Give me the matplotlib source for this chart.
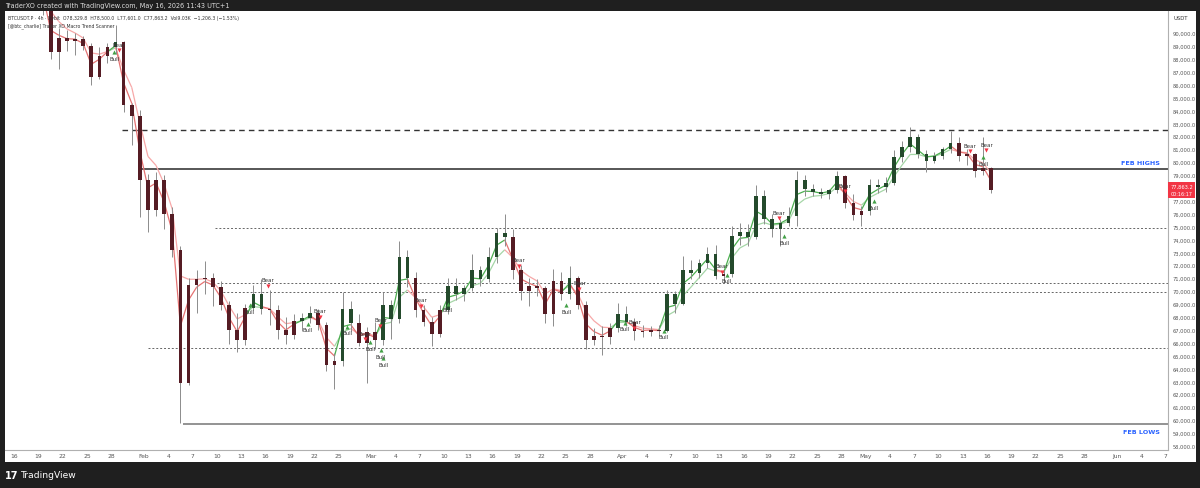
import matplotlib
matplotlib.use("Agg")
import matplotlib.pyplot as plt
import matplotlib.dates as mdates
import numpy as np
import pandas as pd
from matplotlib.collections import LineCollection
from matplotlib.patches import Rectangle

# ---------------- data (daily OHLC, thousands USDT), Jan 16 -> May 16 2026 ----------------
start_date = "2026-01-16"
opens = [95.5, 95.1, 95.0, 93.6, 92.4, 88.5, 89.6, 89.4, 89.5, 89.0,
         86.6, 88.2, 88.9, 89.3, 84.4, 83.6, 78.6, 76.3, 78.6, 76.0,
         73.2, 62.9, 70.5, 70.9, 71.0, 70.3, 68.9, 67.0, 66.2, 68.7,
         69.8, 68.6, 68.5, 67.0, 66.6, 67.7, 67.9, 68.3, 67.4, 64.3,
         64.6, 68.6, 67.5, 66.0, 66.8, 66.2, 68.9, 67.8, 72.6, 71.0,
         68.5, 67.6, 66.7, 68.5, 70.4, 69.8, 70.2, 71.6, 70.9, 72.6,
         74.5, 74.2, 71.6, 70.0, 70.4, 70.2, 68.2, 70.8, 69.8, 71.0,
         68.9, 66.2, 66.5, 66.4, 67.1, 68.2, 67.6, 66.9, 66.8, 67.0,
         66.9, 69.8, 69.0, 71.6, 71.4, 72.2, 72.9, 71.2, 71.3, 74.3,
         74.6, 74.2, 77.4, 75.6, 74.8, 75.3, 75.8, 78.6, 77.9, 77.7,
         77.5, 77.8, 78.9, 76.8, 75.9, 76.2, 78.2, 78.1, 78.4, 80.4,
         81.2, 81.9, 80.6, 80.1, 80.5, 81.0, 81.5, 80.5, 80.6, 79.3,
         79.5]
highs = [95.9, 95.6, 95.5, 93.8, 92.8, 90.4, 90.2, 90.0, 89.8, 89.2,
         88.9, 89.2, 90.6, 89.4, 84.6, 84.0, 79.1, 79.2, 79.0, 76.5,
         73.5, 71.0, 71.6, 72.3, 71.4, 70.8, 69.2, 68.3, 69.0, 70.5,
         70.9, 70.1, 68.9, 68.0, 68.2, 68.3, 68.8, 68.6, 67.6, 65.2,
         69.9, 69.2, 68.2, 67.2, 67.6, 69.9, 69.3, 73.9, 73.2, 71.5,
         68.9, 68.0, 68.9, 71.0, 71.0, 70.5, 72.9, 71.9, 73.4, 74.9,
         76.0, 74.8, 72.0, 71.0, 70.9, 70.4, 71.7, 71.5, 71.9, 71.2,
         69.2, 67.1, 67.3, 67.5, 69.1, 68.8, 67.9, 67.4, 67.3, 67.4,
         70.1, 70.0, 72.7, 72.4, 72.5, 73.4, 73.6, 71.6, 75.0, 75.3,
         75.2, 78.2, 77.8, 76.0, 75.6, 76.5, 79.3, 79.0, 78.3, 78.0,
         77.9, 79.3, 79.0, 77.5, 76.6, 78.7, 78.7, 78.8, 80.9, 81.6,
         82.7, 82.2, 80.9, 80.8, 81.2, 82.4, 81.9, 81.0, 80.7, 81.9,
         79.6]
lows = [94.9, 94.8, 93.5, 91.4, 88.0, 87.2, 88.6, 88.3, 88.7, 86.0,
        86.4, 87.7, 88.4, 83.9, 81.3, 75.7, 74.6, 75.8, 74.8, 72.6,
        59.8, 62.7, 68.3, 69.8, 68.8, 68.5, 65.9, 65.3, 65.8, 68.5,
        68.2, 67.4, 66.3, 65.9, 66.3, 66.9, 67.5, 67.0, 63.8, 62.4,
        64.2, 66.9, 65.7, 62.9, 65.5, 65.8, 66.3, 67.5, 70.3, 68.0,
        67.3, 65.7, 66.4, 68.2, 69.3, 69.2, 70.0, 70.4, 70.7, 72.2,
        73.5, 70.9, 69.3, 68.8, 69.6, 67.5, 67.3, 69.3, 69.4, 68.6,
        65.5, 65.8, 65.0, 65.9, 66.8, 67.3, 66.2, 66.4, 66.5, 66.5,
        66.8, 68.3, 68.9, 70.9, 71.0, 71.8, 70.9, 70.6, 71.1, 73.6,
        73.5, 74.0, 75.2, 74.2, 73.5, 75.0, 75.0, 77.4, 77.4, 77.2,
        77.1, 77.6, 76.4, 75.5, 75.0, 75.9, 77.6, 77.7, 78.2, 80.0,
        80.8, 80.3, 79.2, 79.9, 80.2, 80.7, 80.1, 79.8, 78.8, 79.0,
        77.6]
closes = [95.1, 95.0, 93.6, 92.4, 88.5, 89.6, 89.4, 89.5, 89.0, 86.6,
          88.2, 88.9, 89.3, 84.4, 83.6, 78.6, 76.3, 78.6, 76.0, 73.2,
          62.9, 70.5, 70.9, 71.0, 70.3, 68.9, 67.0, 66.2, 68.7, 69.8,
          68.6, 68.5, 67.0, 66.6, 67.7, 67.9, 68.3, 67.4, 64.3, 64.6,
          68.6, 67.5, 66.0, 66.8, 66.2, 68.9, 67.8, 72.6, 71.0, 68.5,
          67.6, 66.7, 68.5, 70.4, 69.8, 70.2, 71.6, 70.9, 72.6, 74.5,
          74.2, 71.6, 70.0, 70.4, 70.2, 68.2, 70.8, 69.8, 71.0, 68.9,
          66.2, 66.5, 66.4, 67.1, 68.2, 67.6, 66.9, 66.8, 67.0, 66.9,
          69.8, 69.0, 71.6, 71.4, 72.2, 72.9, 71.2, 71.3, 74.3, 74.6,
          74.2, 77.4, 75.6, 74.8, 75.3, 75.8, 78.6, 77.9, 77.7, 77.5,
          77.8, 78.9, 76.8, 75.9, 76.2, 78.2, 78.1, 78.4, 80.4, 81.2,
          81.9, 80.6, 80.1, 80.5, 81.0, 81.5, 80.5, 80.6, 79.3, 79.5,
          77.8632]

# key levels (USDT)
level_names = ["dash_top", "feb_highs", "dot_75k", "dot_707", "dot_700", "dot_655", "feb_lows"]
level_prices = [82450, 79450, 74900, 70650, 69950, 65550, 59690]
level_starts = ["2026-01-29 07:00", "2026-01-31 18:00", "2026-02-09 19:00", "2026-02-10 00:00",
                "2026-02-10 07:00", "2026-02-01 12:00", "2026-02-05 19:00"]

# Trader XO signals (triangle positions)
bear_times = ["2026-01-28 22:00", "2026-02-16 07:00", "2026-02-22 17:00", "2026-02-28 05:00",
              "2026-03-02 04:00", "2026-03-07 05:00", "2026-03-19 07:00", "2026-03-26 17:00",
              "2026-04-02 12:00", "2026-04-13 07:00", "2026-04-20 08:00", "2026-04-28 10:00",
              "2026-05-13 22:00", "2026-05-15 22:00"]
bear_prices = [88680, 70390, 67990, 66280, 67290, 68840, 71940, 70160,
               67140, 71480, 75660, 77750, 80850, 80930]
bull_times = ["2026-01-28 08:00", "2026-02-14 01:00", "2026-02-21 05:00", "2026-02-26 02:00",
              "2026-02-28 22:00", "2026-03-02 05:00", "2026-03-02 12:00", "2026-03-10 12:00",
              "2026-03-25 02:00", "2026-04-01 07:00", "2026-04-06 02:00", "2026-04-13 22:00",
              "2026-04-20 23:00", "2026-05-02 00:00", "2026-05-15 12:00"]
bull_prices = [88520, 68910, 67440, 67210, 66040, 65420, 64800, 68990,
               68910, 67540, 66900, 71240, 74260, 76970, 80380]

tick_dates = ["2026-01-16", "2026-01-19", "2026-01-22", "2026-01-25", "2026-01-28",
              "2026-02-01", "2026-02-04", "2026-02-07", "2026-02-10", "2026-02-13",
              "2026-02-16", "2026-02-19", "2026-02-22", "2026-02-25",
              "2026-03-01", "2026-03-04", "2026-03-07", "2026-03-10", "2026-03-13",
              "2026-03-16", "2026-03-19", "2026-03-22", "2026-03-25", "2026-03-28",
              "2026-04-01", "2026-04-04", "2026-04-07", "2026-04-10", "2026-04-13",
              "2026-04-16", "2026-04-19", "2026-04-22", "2026-04-25", "2026-04-28",
              "2026-05-01", "2026-05-04", "2026-05-07", "2026-05-10", "2026-05-13",
              "2026-05-16", "2026-05-19", "2026-05-22", "2026-05-25", "2026-05-28",
              "2026-06-01", "2026-06-04", "2026-06-07"]
tick_labels = ["16", "19", "22", "25", "28", "Feb", "4", "7", "10", "13", "16", "19", "22", "25",
               "Mar", "4", "7", "10", "13", "16", "19", "22", "25", "28",
               "Apr", "4", "7", "10", "13", "16", "19", "22", "25", "28",
               "May", "4", "7", "10", "13", "16", "19", "22", "25", "28",
               "Jun", "4", "7"]
# 78,000 is hidden behind the live-price tag in the reference
price_ticks = [v for v in range(58000, 91000, 1000) if v != 78000]

last_price = 77863.2
countdown = "00:16:17"
header_text = "TraderXO created with TradingView.com, May 16, 2026 11:43 UTC+1"
legend_line1 = "BTCUSDT.P · 4h · Bybit  O78,329.8  H78,500.0  L77,601.0  C77,863.2  Vol9.03K  \u22121,206.3 (\u22121.53%)"
legend_line2 = "[@btc_charlie] Trader XO Macro Trend Scanner"

# ---------------- figure ----------------
W, H = 1200, 489
fig = plt.figure(figsize=(W / 100, H / 100), dpi=100, facecolor="#1f1f1f")

def fx(px):
    return px / W

def fy(py):
    return 1 - py / H

panel = fig.add_axes([fx(5), fy(463), fx(1196) - fx(5), fy(12) - fy(463)])
panel.set_facecolor("white")
panel.set_xticks([]); panel.set_yticks([])
for s in panel.spines.values():
    s.set_visible(False)

ax = fig.add_axes([fx(5), fy(451), fx(1168) - fx(5), fy(12) - fy(451)])
ax.set_facecolor("white")

base = mdates.date2num(pd.Timestamp(start_date))
px_per_day = 8.108
x0_px = 14.2
ax.set_xlim(base + (5 - x0_px) / px_per_day, base + (1168 - x0_px) / px_per_day)
ax.set_ylim(57674, 91705)

o = np.array(opens) * 1000
h = np.array(highs) * 1000
l = np.array(lows) * 1000
c = np.array(closes) * 1000
dates = pd.date_range(start_date, periods=len(c), freq="D")
xc = mdates.date2num(dates) + 0.5

# Trader XO fast / slow EMAs
cs = pd.Series(c)
fast = cs.ewm(span=2.2, adjust=False).mean().values
slow = cs.ewm(span=4.2, adjust=False).mean().values
bull = fast >= slow

def trend_lines(vals, up_col, dn_col, lw):
    pts = np.column_stack([xc, vals])
    segs = np.stack([pts[:-1], pts[1:]], axis=1)
    cols = [up_col if b else dn_col for b in bull[1:]]
    ax.add_collection(LineCollection(segs, colors=cols, linewidths=lw, zorder=2))

trend_lines(slow, "#a5d6a7", "#f7a8a8", 0.9)
trend_lines(fast, "#4caf50", "#e57373", 0.9)

# candles
body_up = "#244a2c"
body_dn = "#551c24"
wick_col = "#8c8c8c"
ax.vlines(xc, l, h, colors=wick_col, linewidth=0.7, zorder=3)
body_bottom = np.minimum(o, c)
body_h = np.maximum(np.abs(c - o), 40)
ax.bar(xc, body_h, bottom=body_bottom, width=0.45,
       color=[body_up if b else body_dn for b in bull], linewidth=0, zorder=4)

# horizontal levels
xmax = ax.get_xlim()[1]
styles = {
    "dash_top": dict(color="#333333", lw=1.0, ls=(0, (4, 3))),
    "feb_highs": dict(color="#3a3a3a", lw=1.2, ls="-"),
    "dot_75k": dict(color="#666666", lw=0.7, ls=(0, (2, 2))),
    "dot_707": dict(color="#666666", lw=0.7, ls=(0, (2, 2))),
    "dot_700": dict(color="#666666", lw=0.7, ls=(0, (2, 2))),
    "dot_655": dict(color="#666666", lw=0.7, ls=(0, (2, 2))),
    "feb_lows": dict(color="#8a8a8a", lw=1.3, ls="-"),
}
for name, p, st in zip(level_names, level_prices, level_starts):
    sd = styles[name]
    ax.hlines(p, mdates.date2num(pd.Timestamp(st)), xmax, colors=sd["color"],
              linewidth=sd["lw"], linestyles=[sd["ls"]], zorder=1)

ax.text(xmax - 1.0, 79450 + 350, "FEB HIGHS", color="#2962ff", fontsize=4.6,
        ha="right", va="bottom", fontweight="bold")
ax.text(xmax - 1.0, 59690 - 350, "FEB LOWS", color="#2962ff", fontsize=4.6,
        ha="right", va="top", fontweight="bold")

# signals
bt = mdates.date2num(pd.to_datetime(bear_times))
ax.scatter(bt, bear_prices, marker="v", s=9, color="#f23645", linewidths=0, zorder=6)
for t, p in zip(bt, bear_prices):
    ax.annotate("Bear", (t, p), xytext=(0, 2.5), textcoords="offset points",
                ha="center", va="bottom", fontsize=4.0, color="#333333", zorder=6)
ut = mdates.date2num(pd.to_datetime(bull_times))
ax.scatter(ut, bull_prices, marker="^", s=9, color="#43a047", linewidths=0, zorder=6)
for t, p in zip(ut, bull_prices):
    ax.annotate("Bull", (t, p), xytext=(0, -2.5), textcoords="offset points",
                ha="center", va="top", fontsize=4.0, color="#333333", zorder=6)

# axes styling
for side in ["top", "left"]:
    ax.spines[side].set_visible(False)
ax.spines["right"].set_color("#b0b0b0")
ax.spines["bottom"].set_color("#b0b0b0")
ax.spines["right"].set_linewidth(0.8)
ax.spines["bottom"].set_linewidth(0.8)

ax.set_xticks(mdates.date2num(pd.to_datetime(tick_dates)))
ax.set_xticklabels(tick_labels)
ax.tick_params(axis="x", length=0, pad=2.2, labelsize=4.3, labelcolor="#555555")
ax.yaxis.tick_right()
ax.set_yticks(price_ticks)
ax.set_yticklabels([f"{v:,.1f}" for v in price_ticks])
ax.tick_params(axis="y", length=0, pad=3.0, labelsize=3.7, labelcolor="#555555")

# current price tag
fig.patches.append(Rectangle((fx(1168), fy(198.5)), fx(1195) - fx(1168), fy(183) - fy(198.5),
                             transform=fig.transFigure, facecolor="#f23645",
                             edgecolor="none", zorder=10))
fig.text(fx(1181.5), fy(187.5), f"{last_price:,.1f}", color="white", fontsize=3.7,
         ha="center", va="center", zorder=11)
fig.text(fx(1181.5), fy(194.5), countdown, color="white", fontsize=3.5,
         ha="center", va="center", zorder=11)

# texts
fig.text(fx(5), fy(6), header_text, color="#dddddd", fontsize=4.7, ha="left", va="center")
fig.text(fx(8), fy(18.5), legend_line1, color="#333333", fontsize=3.35, ha="left", va="center")
fig.text(fx(8), fy(26), legend_line2, color="#333333", fontsize=3.35, ha="left", va="center")
fig.text(fx(1181), fy(19), "USDT", color="#333333", fontsize=3.8, ha="center", va="center")
fig.text(fx(5), fy(476), "17", color="white", fontsize=7.0, fontweight="bold",
         ha="left", va="center")
fig.text(fx(21), fy(476), "TradingView", color="white", fontsize=6.6,
         ha="left", va="center")

fig.savefig("out.png", dpi=100, facecolor=fig.get_facecolor())
